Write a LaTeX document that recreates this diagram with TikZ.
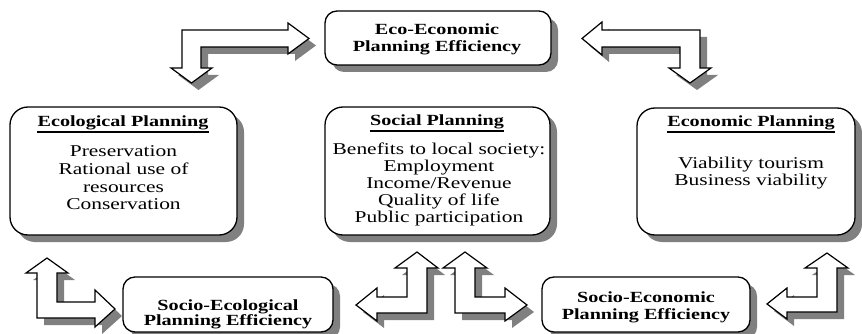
\documentclass[tikz,border=0pt]{standalone}
\usepackage{fontspec}
\setmainfont{Liberation Serif}[FakeStretch=1.3]
\usetikzlibrary{shadows}
\definecolor{shadowgray}{gray}{0.5}
\tikzset{
  box/.style={draw=black, line width=1.3pt, fill=white, rounded corners=18pt,
    drop shadow={shadow xshift=7pt, shadow yshift=-7pt, fill=shadowgray, opacity=1},
    inner sep=0pt},
  smallbox/.style={box, rounded corners=12pt},
  txt/.style={font=\fontsize{16.5}{19}\selectfont, inner sep=0pt, anchor=base, text=black},
  ttl/.style={txt, font=\fontsize{15.5}{18}\selectfont\bfseries},
  ul/.style={line width=1.4pt},
  blockarrow/.style={draw=black, line width=1.2pt, fill=white, line join=miter,
    preaction={draw=none, fill=shadowgray, transform canvas={xshift=7pt, yshift=-7pt}}},
}
\begin{document}
\begin{tikzpicture}[x=1pt, y=-1pt]
\useasboundingbox (0,0) rectangle (862,334);
\fill[white] (0,0) rectangle (862,334);

% ---- boxes ----
\node[smallbox, minimum width=226pt, minimum height=54pt] (top) at (438,38) {};
\node[box, minimum width=227pt, minimum height=128pt] (eco) at (123.5,171) {};
\node[box, minimum width=225pt, minimum height=128pt] (soc) at (437.5,171) {};
\node[box, minimum width=218pt, minimum height=127pt] (econ) at (746,171.5) {};
\node[smallbox, minimum width=210pt, minimum height=55pt] (sEco) at (228,304.5) {};
\node[smallbox, minimum width=208pt, minimum height=55pt] (sEcon) at (646,304.5) {};

% ---- top box text ----
\node[ttl] (top1) at (437,35) {Eco-Economic};
\node[ttl] (top2) at (437,52) {Planning Efficiency};

% ---- ecological ----
\node[ttl] (ecot) at (123,126.5) {Ecological Planning};
\draw[ul] ([yshift=-5.5pt]ecot.base west) -- ([yshift=-5.5pt]ecot.base east);
\foreach \t [count=\i] in {Preservation, Rational use of, resources, Conservation}
  \node[txt] (eco\i) at (123.5,{157+(\i-1)*17.6}) {\t};

% ---- social ----
\node[ttl] (soct) at (437,125.5) {Social Planning};
\draw[ul] ([yshift=-5.5pt]soct.base west) -- ([yshift=-5.5pt]soct.base east);
\foreach \t [count=\i] in {Benefits to local society:, Employment, Income/Revenue, Quality of life, Public participation}
  \node[txt] (soc\i) at (439,{154.5+(\i-1)*16.9}) {\t};

% ---- economic ----
\node[ttl] (econt) at (751,126.5) {Economic Planning};
\draw[ul] ([yshift=-5.5pt]econt.base west) -- ([yshift=-5.5pt]econt.base east);
\node[txt] (econ1) at (751,168) {Viability tourism};
\node[txt] (econ2) at (751,185) {Business viability};

% ---- bottom boxes text ----
\node[ttl] (sEco1) at (228,310.5) {Socio-Ecological};
\node[ttl] (sEco2) at (228,325.5) {Planning Efficiency};
\node[ttl] (sEcon1) at (646,302) {Socio-Economic};
\node[ttl] (sEcon2) at (646,319) {Planning Efficiency};

% ---- block arrows ----
% top-left
\draw[blockarrow] (182,30) -- (288,30) -- (288,23) -- (309,38.5) -- (288,54) -- (288,47)
  -- (201,47) -- (201,68) -- (212,68) -- (191.5,83) -- (171,68) -- (182,68) -- cycle;
% top-right
\draw[blockarrow] (700,30) -- (700,68) -- (711,68) -- (690,83) -- (669,68) -- (680,68)
  -- (680,47) -- (602,47) -- (602,55) -- (582,38.5) -- (602,22) -- (602,30) -- cycle;
% bottom-left
\draw[blockarrow] (37,318) -- (37,273) -- (26,273) -- (47,258) -- (68,273) -- (57,273)
  -- (57,302) -- (95,302) -- (95,290) -- (115,309) -- (95,327) -- (95,318) -- cycle;
% middle-left
\draw[blockarrow] (427,313) -- (377,313) -- (377,321) -- (356,305) -- (377,288) -- (377,297)
  -- (407,297) -- (407,268) -- (395,268) -- (417,252) -- (438,268) -- (427,268) -- cycle;
% middle-right
\draw[blockarrow] (455,313) -- (455,268) -- (443,268) -- (465,252) -- (487,268) -- (475,268)
  -- (475,297) -- (505,297) -- (505,288) -- (527,305) -- (505,321) -- (505,313) -- cycle;
% bottom-right
\draw[blockarrow] (837,312) -- (787,312) -- (787,319) -- (767,304) -- (787,288) -- (787,297)
  -- (817,297) -- (817,268) -- (805,268) -- (827,253) -- (848,268) -- (837,268) -- cycle;
\end{tikzpicture}
\end{document}
